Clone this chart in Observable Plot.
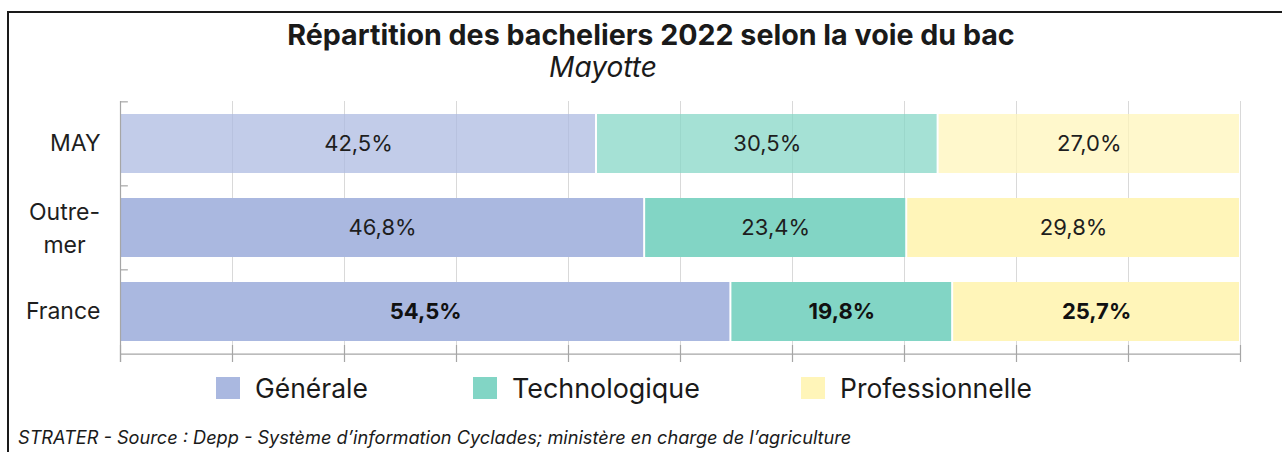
<!DOCTYPE html>
<html>
<head>
<meta charset="utf-8">
<script src="https://cdn.jsdelivr.net/npm/d3@7"></script>
<script src="https://cdn.jsdelivr.net/npm/@observablehq/plot@0.6"></script>
<style>
  html, body { margin: 0; padding: 0; background: #fff; }
  body { width: 1282px; height: 452px; overflow: hidden; position: relative; font-family: Inter, "Open Sans", sans-serif; color: #1a1a1a; }
  #frame { position: absolute; left: 7px; top: 11px; width: 1300px; height: 470px; border-left: 2px solid #1a1a1a; border-top: 2px solid #1a1a1a; box-sizing: border-box; z-index: 10; pointer-events: none; }
  .t { position: absolute; white-space: nowrap; line-height: 1; display: inline-block; }
  #chart { position: absolute; left: 0; top: 90px; }
  .sw { position: absolute; width: 24px; height: 22px; }
</style>
</head>
<body>
<div id="frame"></div>
<div id="chart"></div>
<script>
// ---- data ----
const categories = ["MAY", "Outre-mer", "France"];
const voies = ["Générale", "Technologique", "Professionnelle"];
const generale = [42.5, 46.8, 54.5];
const technologique = [30.5, 23.4, 19.8];
const professionnelle = [27.0, 29.8, 25.7];
const colors = ["#aab8e0", "#82d5c5", "#fff5b9"];
const xTicks = [0, 10, 20, 30, 40, 50, 60, 70, 80, 90, 100];
const title = "Répartition des bacheliers 2022 selon la voie du bac";
const subtitle = "Mayotte";
const caption = "STRATER - Source : Depp - Système d’information Cyclades; ministère en charge de l’agriculture";

// ---- build table ----
const series = [generale, technologique, professionnelle];
const rows = [];
categories.forEach((cat, i) => {
  let acc = 0;
  voies.forEach((v, j) => {
    const value = series[j][i];
    rows.push({cat, voie: v, value, x1: acc, x2: acc + value});
    acc += value;
  });
});
const fmt = v => v.toFixed(1).replace(".", ",") + "%";

const H = 290, mTop = 11, mBottom = 26;
const step = (H - mTop - mBottom) / categories.length;
const labelFont = 22;
const axisFont = 23;

const chart = Plot.plot({
  width: 1282,
  height: H,
  marginLeft: 120,
  marginRight: 42,
  marginTop: mTop,
  marginBottom: mBottom,
  x: {domain: [0, 100], axis: null},
  y: {domain: categories, paddingInner: 0.3, paddingOuter: 0.15, axis: null},
  color: {domain: voies, range: colors},
  style: {fontFamily: "Inter, 'Open Sans', sans-serif", background: "transparent", color: "#1a1a1a", overflow: "visible"},
  marks: [
    Plot.ruleX(xTicks, {stroke: "#d9d9d9", strokeWidth: 1}),
    Plot.barX(rows.filter(d => d.cat === "MAY"), {x1: "x1", x2: "x2", y: "cat", fill: "voie", fillOpacity: 0.72, insetLeft: 1, insetRight: 1}),
    Plot.barX(rows.filter(d => d.cat !== "MAY"), {x1: "x1", x2: "x2", y: "cat", fill: "voie", insetLeft: 1, insetRight: 1}),
    Plot.ruleX(xTicks, {stroke: "#a6a6a6", strokeWidth: 1.2, insetTop: H - mTop - mBottom - 9, insetBottom: -8}),
    Plot.ruleX([0], {stroke: "#a6a6a6", strokeWidth: 1.2, insetBottom: -8}),
    Plot.ruleY(categories, {y: d => d, x1: 0, x2: 0.7, dy: -step / 2, stroke: "#a6a6a6", strokeWidth: 1.2}),
    Plot.ruleY([categories[categories.length - 1]], {y: d => d, x1: 0, x2: 100, dy: step / 2, stroke: "#a6a6a6", strokeWidth: 1.2}),
    Plot.text(rows.filter(d => d.cat !== "France"), {x: d => (d.x1 + d.x2) / 2, y: "cat", text: d => fmt(d.value), fontSize: labelFont, fill: "#1e1e1e"}),
    Plot.text(rows.filter(d => d.cat === "France"), {x: d => (d.x1 + d.x2) / 2, y: "cat", text: d => fmt(d.value), fontSize: labelFont, fontWeight: "bold", fill: "#111"}),
    Plot.text(categories.filter(c => c !== "Outre-mer"), {y: d => d, frameAnchor: "left", dx: -20, textAnchor: "end", text: d => d, fontSize: axisFont, fill: "#1e1e1e"}),
    Plot.text(categories.filter(c => c === "Outre-mer"), {y: d => d, frameAnchor: "left", dx: -56, dy: -2, textAnchor: "middle", text: d => d.replace("-", "-\n"), fontSize: axisFont, lineHeight: 1.45, fill: "#1e1e1e"})
  ]
});
document.getElementById("chart").appendChild(chart);

// ---- HTML texts (title, subtitle, legend, caption) ----
function place(text, o) {
  const s = document.createElement("span");
  s.className = "t";
  s.textContent = text;
  let size = o.size;
  s.style.fontSize = size + "px";
  if (o.weight) s.style.fontWeight = o.weight;
  if (o.italic) s.style.fontStyle = "italic";
  document.body.appendChild(s);
  if (o.target) {
    const w = s.getBoundingClientRect().width;
    size = size * o.target / w;
    s.style.fontSize = size + "px";
  }
  s.style.top = (o.baseline - 0.863 * size) + "px";
  const w2 = s.getBoundingClientRect().width;
  if (o.center != null) s.style.left = (o.center - w2 / 2) + "px";
  else s.style.left = o.left + "px";
  return s;
}
place(title, {size: 24, weight: "bold", baseline: 45.5, center: 651, target: 728});
place(subtitle, {size: 22, italic: true, baseline: 77, center: 603, target: 108});

const legendX = [216, 473, 801];
const legendW = [113, 188, 192];
voies.forEach((v, i) => {
  const sw = document.createElement("div");
  sw.className = "sw";
  sw.style.left = legendX[i] + "px";
  sw.style.top = "377px";
  sw.style.background = colors[i];
  document.body.appendChild(sw);
  place(v, {size: 24, baseline: 398, left: legendX[i] + 39, target: legendW[i]});
});
place(caption, {size: 17, italic: true, baseline: 444, left: 18, target: 834});
</script>
</body>
</html>
